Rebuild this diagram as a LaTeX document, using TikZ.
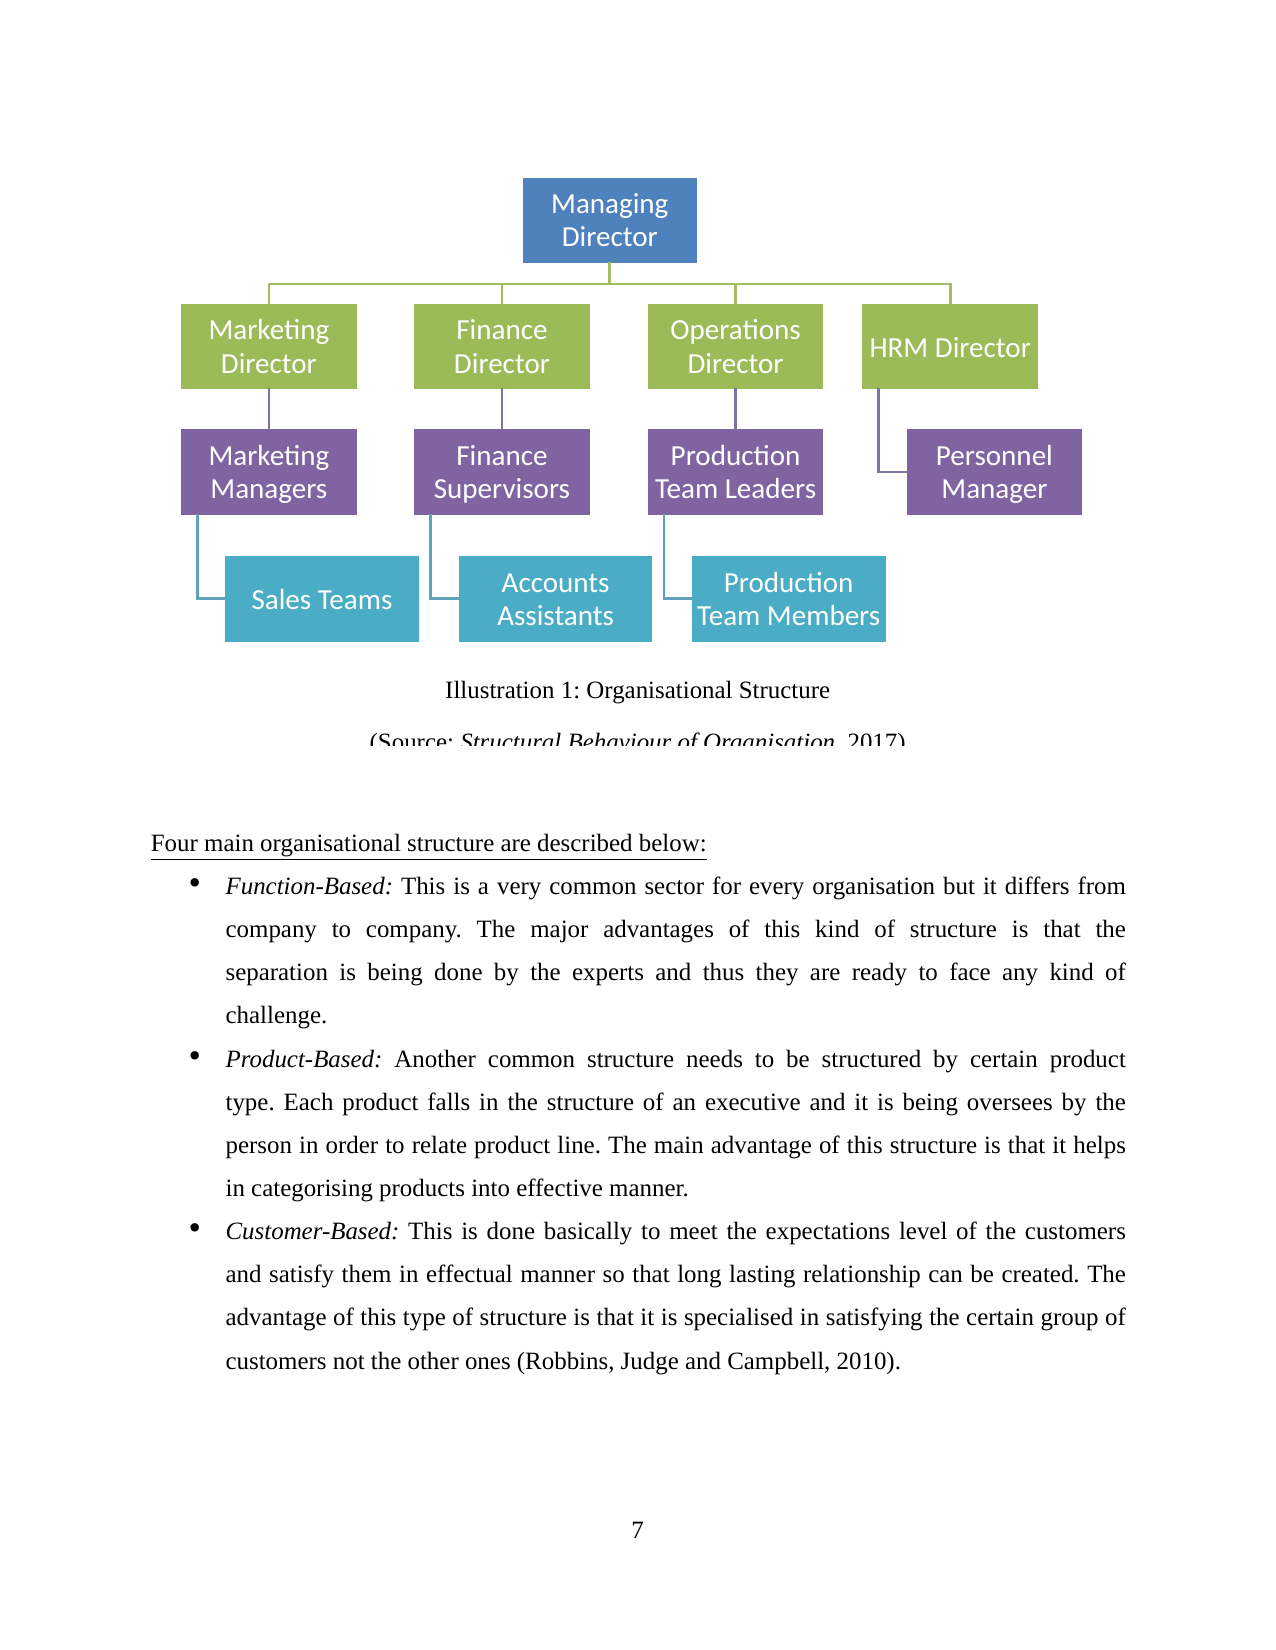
\documentclass[tikz,border=0pt]{standalone}
\usepackage{fontspec}
\setmainfont{Liberation Serif}
\newfontfamily\chartfont{Carlito}
\usetikzlibrary{calc}
\frenchspacing

\definecolor{mdblue}{HTML}{4F81BD}
\definecolor{dirgreen}{HTML}{9BBB59}
\definecolor{mgrpurple}{HTML}{8064A2}
\definecolor{teamaqua}{HTML}{4BACC6}
\definecolor{glinecol}{HTML}{A3BD67}
\definecolor{plinecol}{HTML}{7D72A0}
\definecolor{blinecol}{HTML}{5FA3BA}

\newcommand\unitpx{0.50685pt}
% two centred lines with fixed room above and below
\newcommand\twoline[2]{\rule{0pt}{13pt}#1\\#2\rule[-3.5pt]{0pt}{3.5pt}}

\tikzset{
	orgbox/.style={font=\chartfont\fontsize{14}{16}\selectfont, text=white, align=center,
		inner sep=0pt, minimum height=81*\unitpx},
	oneline/.style={text height=12pt, text depth=2.1pt},
	mdbox/.style={orgbox, fill=mdblue, minimum width=165*\unitpx},
	dirbox/.style={orgbox, fill=dirgreen, minimum width=167*\unitpx},
	mgrbox/.style={orgbox, fill=mgrpurple, minimum width=167*\unitpx},
	teambox/.style={orgbox, fill=teamaqua, minimum width=184*\unitpx, minimum height=82*\unitpx},
	gline/.style={glinecol, line width=1.3pt},
	pline/.style={plinecol, line width=1.3pt},
	bline/.style={blinecol, line width=1.3pt},
	bodytext/.style={font=\fontsize{12}{20.78}\selectfont, inner sep=0pt},
	bulletmark/.style={font=\fontsize{17}{17}\selectfont, inner sep=0pt}
}

\begin{document}
\begin{tikzpicture}[x=\unitpx, y=-\unitpx, line cap=rect, line join=miter]
	% Page frame
	\useasboundingbox (0,0) rectangle (1212,1568);
	
	% Rows of the chart
	\def\rowA{209.5} \def\rowB{329.5}
	\def\rowC{448.5} \def\rowD{569}
	
	% Top
	\node[mdbox] (md) at (579.5,\rowA) {\twoline{Managing}{Director}};
	
	% Directors
	\node[dirbox] (mkd) at (255.5,\rowB) {\twoline{Marketing}{Director}};
	\node[dirbox] (fid) at (477,\rowB) {\twoline{Finance}{Director}};
	\node[dirbox] (opd) at (699,\rowB) {\twoline{Operations}{Director}};
	\node[dirbox, oneline] (hrd) at (903,\rowB) {HRM Director};
	
	% Managers
	\node[mgrbox] (mkm) at (255.5,\rowC) {\twoline{Marketing}{Managers}};
	\node[mgrbox] (fis) at (477,\rowC) {\twoline{Finance}{Supervisors}};
	\node[mgrbox] (ptl) at (699,\rowC) {\twoline{Production}{Team Leaders}};
	\node[mgrbox] (pem) at (945,\rowC) {\twoline{Personnel}{Manager}};
	
	% Teams
	\node[teambox, oneline] (slt) at (306,\rowD) {Sales Teams};
	\node[teambox] (aca) at (528,\rowD) {\twoline{Accounts}{Assistants}};
	\node[teambox] (ptm) at (749.5,\rowD) {\twoline{Production}{Team Members}};
	
	% Bus under the managing director
	\coordinate (bus) at (579.5,270);
	\draw[gline] (md.south) -- (bus);
	\draw[gline] (mkd.north) |- (bus) -| (hrd.north);
	\draw[gline] (fid.north) -- (fid.north |- bus);
	\draw[gline] (opd.north) -- (opd.north |- bus);
	
	% Directors to managers
	\draw[pline] (mkd) -- (mkm);
	\draw[pline] (fid) -- (fis);
	\draw[pline] (opd) -- (ptl);
	\draw[pline] ($(hrd.south west)+(16,0)$) |- (pem.west);
	
	% Managers to teams
	\draw[bline] ($(mkm.south west)+(16,0)$) |- (slt.west);
	\draw[bline] ($(fis.south west)+(16,0)$) |- (aca.west);
	\draw[bline] ($(ptl.south west)+(16,0)$) |- (ptm.west);
	
	% Caption, source line cut off at the bottom
	\node[bodytext, anchor=base] (cap) at (606,664) {Illustration 1: Organisational Structure};
	\begin{scope}
		\clip (0,0) rectangle (1212,708);
		\node[bodytext, anchor=base] (src) at (606,713)
		{(Source: \textit{Structural Behaviour of Organisation}, 2017)};
	\end{scope}
	
	% Text below the chart
	\node[bodytext, anchor=base west] (head) at (143,809)
	{\underline{Four main organisational structure are described below:}};
	
	\node[bulletmark, anchor=base] (b1) at (185,850) {\textbullet};
	\node[bodytext, anchor=base west, text width=6in, align=justify] (it1) at (214,850)
	{\textit{Function-Based:} This is a very common sector for every organisation but it differs from\linebreak
		company to company. The major advantages of this kind of structure is that the\linebreak
		separation is being done by the experts and thus they are ready to face any kind of\linebreak
		challenge.};
	
	\node[bulletmark, anchor=base] (b2) at (185,1014) {\textbullet};
	\node[bodytext, anchor=base west, text width=6in, align=justify] (it2) at (214,1014)
	{\textit{Product-Based:} Another common structure needs to be structured by certain product\linebreak
		type. Each product falls in the structure of an executive and it is being oversees by the\linebreak
		person in order to relate product line. The main advantage of this structure is that it helps\linebreak
		in categorising products into effective manner.};
	
	\node[bulletmark, anchor=base] (b3) at (185,1178) {\textbullet};
	\node[bodytext, anchor=base west, text width=6in, align=justify] (it3) at (214,1178)
	{\textit{Customer-Based:} This is done basically to meet the expectations level of the customers\linebreak
		and satisfy them in effectual manner so that long lasting relationship can be created. The\linebreak
		advantage of this type of structure is that it is specialised in satisfying the certain group of\linebreak
		customers not the other ones (Robbins, Judge and Campbell, 2010).};
	
	% Page number
	\node[bodytext, anchor=base] (pg) at (606,1462) {7};
\end{tikzpicture}
\end{document}
